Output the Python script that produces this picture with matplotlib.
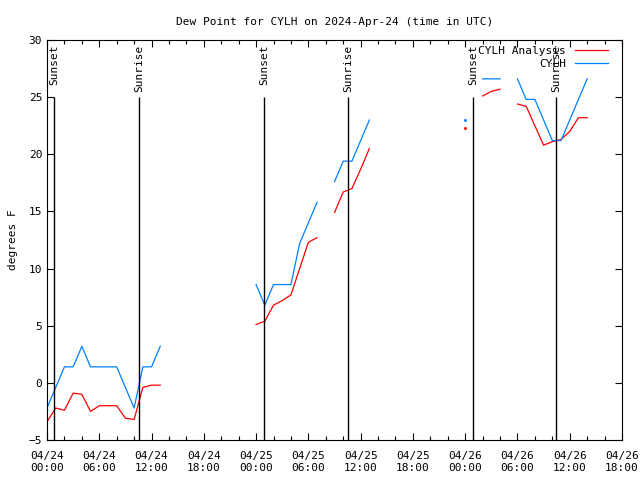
import numpy as np
import matplotlib
matplotlib.use('Agg')
import matplotlib.pyplot as plt

nan = np.nan

# hours since 2024-04-24 00:00 UTC
hours = list(range(0, 63))

# CYLH observed dew point (deg F), nan = no data
cylh = [-2.2, -0.4, 1.4, 1.4, 3.2, 1.4, 1.4, 1.4, 1.4, -0.4, -2.2, 1.4, 1.4, 3.2,
        nan, nan, nan, nan, nan, nan, nan, nan, nan, nan,
        8.6, 6.8, 8.6, 8.6, 8.6, 12.2, 14.0, 15.8,
        nan,
        17.6, 19.4, 19.4, 21.2, 23.0,
        nan, nan, nan, nan, nan, nan, nan, nan, nan, nan,
        23.0, nan, 26.6, 26.6, 26.6, nan,
        26.6, 24.8, 24.8, 23.0, 21.2, 21.2, 23.0, 24.8, 26.6]

# CYLH analysis dew point (deg F)
analysis = [-3.4, -2.2, -2.4, -0.9, -1.0, -2.5, -2.0, -2.0, -2.0, -3.1, -3.2, -0.4, -0.2, -0.2,
            nan, nan, nan, nan, nan, nan, nan, nan, nan, nan,
            5.1, 5.4, 6.8, 7.2, 7.7, 10.0, 12.3, 12.7,
            nan,
            14.9, 16.7, 17.0, 18.7, 20.5,
            nan, nan, nan, nan, nan, nan, nan, nan, nan, nan,
            22.3, nan, 25.1, 25.5, 25.7, nan,
            24.4, 24.2, 22.5, 20.8, 21.1, 21.3, 22.0, 23.2, 23.2]

sun_times = [0.84, 10.59, 24.92, 34.55, 48.9, 58.4]
sun_labels = ['Sunset', 'Sunrise', 'Sunset', 'Sunrise', 'Sunset', 'Sunrise']

xticks = list(range(0, 67, 6))
xticklabels = ['04/24\n00:00', '04/24\n06:00', '04/24\n12:00', '04/24\n18:00',
               '04/25\n00:00', '04/25\n06:00', '04/25\n12:00', '04/25\n18:00',
               '04/26\n00:00', '04/26\n06:00', '04/26\n12:00', '04/26\n18:00']

plt.rcParams['font.family'] = 'DejaVu Sans Mono'
plt.rcParams['font.size'] = 8

fig = plt.figure(figsize=(6.4, 4.8), dpi=100)
ax = fig.add_axes([47 / 640, 40 / 480, 575 / 640, 400 / 480])

ax.plot(hours, analysis, color='#ff0000', lw=0.9, label='CYLH Analysis')
ax.plot(hours, cylh, color='#0080ff', lw=0.9, label='CYLH')
# single isolated points
for series, c in ((analysis, '#ff0000'), (cylh, '#0080ff')):
    for i, v in enumerate(series):
        prev_nan = i == 0 or np.isnan(series[i - 1])
        next_nan = i == len(series) - 1 or np.isnan(series[i + 1])
        if not np.isnan(v) and prev_nan and next_nan:
            ax.plot([hours[i]], [v], marker='s', ms=1, color=c, ls='none')

for t, lab in zip(sun_times, sun_labels):
    ax.vlines(t, -5, 25, color='black', lw=1)
    ax.text(t, 29.6, lab, rotation=90, ha='center', va='top', fontsize=8)

ax.set_xlim(0, 66)
ax.set_ylim(-5, 30)
ax.set_xticks(xticks)
ax.set_xticklabels(xticklabels)
ax.set_xticks(range(0, 67, 2), minor=True)
ax.set_yticks(range(-5, 31, 5))
ax.tick_params(direction='in', top=True, right=True, length=5, width=0.8)
ax.tick_params(which='minor', direction='in', top=True, length=3, width=0.8)
ax.tick_params(axis='x', pad=8)

ax.set_title('Dew Point for CYLH on 2024-Apr-24 (time in UTC)', fontsize=8, pad=11)
ax.set_ylabel('degrees F', labelpad=8)

leg = ax.legend(loc='upper right', markerfirst=False, frameon=False,
                bbox_to_anchor=(1 - 8 / 575, 1),
                handlelength=3, borderaxespad=0.1, labelspacing=0.3, handletextpad=0.8)
for t in leg.get_texts():
    t.set_ha('right')

fig.savefig('out.png', dpi=100)
